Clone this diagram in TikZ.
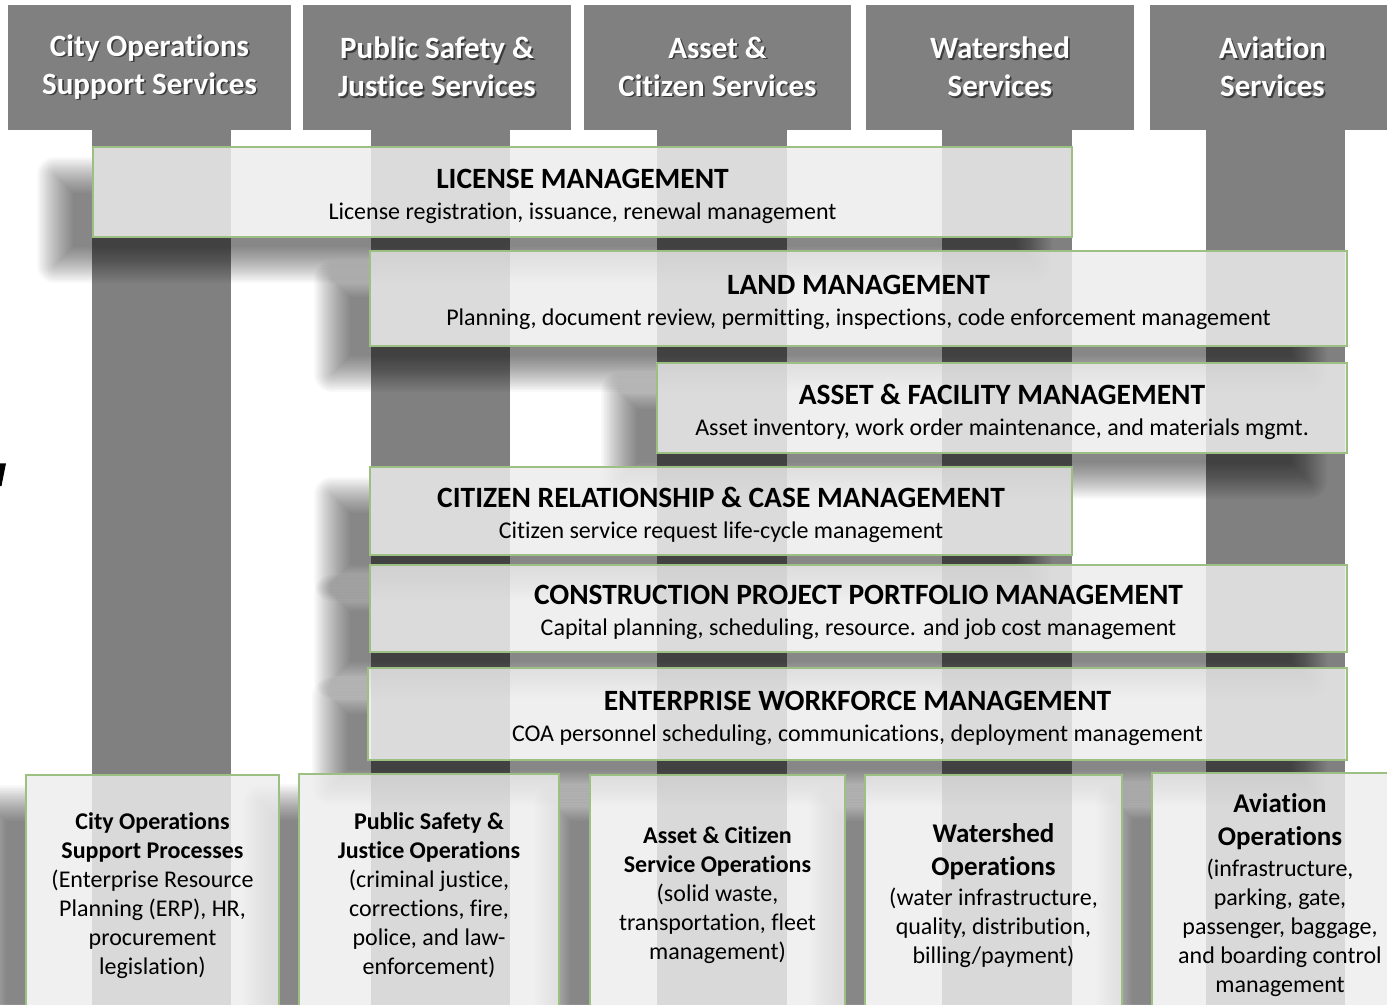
\documentclass[tikz,border=0pt]{standalone}
\usepackage{fontspec}
\setmainfont{Carlito}[Ligatures=NoCommon]

\definecolor{slate}{RGB}{128,128,128}
\definecolor{edgegreen}{RGB}{155,192,130}
\definecolor{panelfill}{RGB}{237,237,237}
\definecolor{textshade}{RGB}{60,60,60}

% soft drop shadow of a rectangle (offset left and down), kept out of the rectangle itself
\newcommand\castshadow[4]{%
  \begin{scope}[even odd rule]
    \clip (-60,-60) rectangle (1460,1080) (#1,#2) rectangle (#3,#4);
    \foreach \k in {0,...,23}{%
      \pgfmathsetmacro\grow{18-1.565*\k}%
      \pgfmathsetmacro\corner{max(\grow,0.5)*0.75}%
      \fill[black, fill opacity=0.025, rounded corners=\corner pt]
        (#1-38-\grow, #2+28-\grow) rectangle (#3-38+\grow, #4+28+\grow);
    }
  \end{scope}}

% white heading text with a dark offset copy underneath
\newcommand\embossed[1]{%
  \makebox[0pt][l]{\hspace{1.3pt}\raisebox{-1.3pt}{\textcolor{textshade}{#1}}}#1}

\tikzset{
  header/.style={fill=slate, draw=none, inner sep=0pt, anchor=center,
    text=white, align=center,
    font=\bfseries\fontsize{23.25}{28.5}\selectfont},
  pillar/.style={fill=slate, draw=none, inner sep=0pt},
  band/.style={fill=panelfill, fill opacity=0.84,
    draw=edgegreen, line width=1.9pt, inner sep=0pt},
  bandtext/.style={align=center, inner sep=0pt,
    font=\fontsize{18}{23.25}\selectfont},
  opsbox/.style={fill=panelfill, fill opacity=0.82, text opacity=1,
    draw=edgegreen, line width=1.9pt, inner sep=0pt, align=center,
    font=\fontsize{18}{21.75}\selectfont},
}

\newcommand\bandhead[1]{{\bfseries\fontsize{22.1}{23.25}\selectfont #1}}
\newcommand\opshead[1]{{\bfseries #1}}
\newcommand\opsheadlarge[1]{{\bfseries\fontsize{20.25}{24.75}\selectfont #1}}

\begin{document}
\begin{tikzpicture}[x=0.75pt, y=-0.75pt]
  \useasboundingbox (0,0) rectangle (1387,1004);
  \clip (0,0) rectangle (1387,1004);
  \fill[white] (0,0) rectangle (1387,1004);

  % service pillars running down from each heading
  \node[pillar, minimum width=104.25pt, minimum height=660pt] (p1) at (161.5,570) {};
  \node[pillar, minimum width=104.25pt, minimum height=660pt] (p2) at (440.5,570) {};
  \node[pillar, minimum width=97.5pt,   minimum height=660pt] (p3) at (722,570) {};
  \node[pillar, minimum width=97.5pt,   minimum height=660pt] (p4) at (1007,570) {};
  \node[pillar, minimum width=104.25pt, minimum height=660pt] (p5) at (1275.5,570) {};

  % service headings
  \node[header, minimum width=212.25pt, minimum height=93.75pt] (h1) at (149.5,67.5)
    {\embossed{City Operations}\\\embossed{Support Services}};
  \node[header, minimum width=201pt, minimum height=93.75pt] (h2) at (437,67.5)
    {\embossed{Public Safety \&}\\\embossed{Justice Services}};
  \node[header, minimum width=200.25pt, minimum height=93.75pt] (h3) at (717.5,67.5)
    {\embossed{Asset \&}\\\embossed{Citizen Services}};
  \node[header, minimum width=201pt, minimum height=93.75pt] (h4) at (1000,67.5)
    {\embossed{Watershed}\\\embossed{Services}};
  \node[header, minimum width=183.75pt, minimum height=93.75pt] (h5) at (1272.5,67.5)
    {\embossed{Aviation}\\\embossed{Services}};

  % cut-off glyph at the left margin
  \fill[black] (0,463.3) -- (6,463.3) -- (1.5,486) -- (0,486) -- cycle;

  % shadows of the capability bands
  \castshadow{93}{147}{1072}{237}
  \castshadow{370}{251}{1347}{346}
  \castshadow{657}{363}{1347}{453}
  \castshadow{370}{467}{1072}{555}
  \castshadow{370}{565}{1347}{652}
  \castshadow{368}{668}{1347}{760}

  % capability bands
  \node[band, minimum width=734.25pt, minimum height=67.5pt] (lic) at (582.5,192) {};
  \node[band, minimum width=732.75pt, minimum height=71.25pt] (land) at (858.5,298.5) {};
  \node[band, minimum width=517.5pt, minimum height=67.5pt] (afm) at (1002,408) {};
  \node[band, minimum width=526.5pt, minimum height=66pt] (crm) at (721,511) {};
  \node[band, minimum width=732.75pt, minimum height=65.25pt] (cppm) at (858.5,608.5) {};
  \node[band, minimum width=734.25pt, minimum height=69pt] (ewm) at (857.5,714) {};

  \node[bandtext] (lic-t) at ([yshift=-3pt]lic.center)
    {\bandhead{LICENSE MANAGEMENT}\\License registration, issuance, renewal management};
  \node[bandtext] (land-t) at ([yshift=-3pt]land.center)
    {\bandhead{LAND MANAGEMENT}\\Planning, document review, permitting, inspections, code enforcement management};
  \node[bandtext] (afm-t) at ([yshift=-3pt]afm.center)
    {\bandhead{ASSET \& FACILITY MANAGEMENT}\\Asset inventory, work order maintenance, and materials mgmt.};
  \node[bandtext] (crm-t) at ([yshift=-3pt]crm.center)
    {\bandhead{CITIZEN RELATIONSHIP \& CASE MANAGEMENT}\\Citizen service request life-cycle management};
  \node[bandtext] (cppm-t) at ([yshift=-3pt]cppm.center)
    {\bandhead{CONSTRUCTION PROJECT PORTFOLIO MANAGEMENT}\\Capital planning, scheduling, resource. and job cost management};
  \node[bandtext] (ewm-t) at ([yshift=-3pt]ewm.center)
    {\bandhead{ENTERPRISE WORKFORCE MANAGEMENT}\\COA personnel scheduling, communications, deployment management};

  % shadows of the operations boxes
  \castshadow{26}{775}{279}{1016}
  \castshadow{299}{774}{559}{1016}
  \castshadow{590}{775}{845}{1016}
  \castshadow{865}{775}{1122}{1016}
  \castshadow{1152}{773}{1408}{1016}

  % operations boxes
  \node[opsbox, minimum width=189.75pt, minimum height=180.75pt] (o1) at (152.5,895.5)
    {\opshead{City Operations}\\\opshead{Support Processes}\\(Enterprise Resource\\Planning (ERP), HR,\\procurement\\legislation)};
  \node[opsbox, minimum width=195pt, minimum height=181.5pt] (o2) at (429,895)
    {\opshead{Public Safety \&}\\\opshead{Justice Operations}\\(criminal justice,\\corrections, fire,\\police, and law-\\enforcement)};
  \node[opsbox, minimum width=191.25pt, minimum height=180.75pt] (o3) at (717.5,895.5)
    {\opshead{Asset \& Citizen}\\\opshead{Service Operations}\\(solid waste,\\transportation, fleet\\management)};
  \node[opsbox, minimum width=192.75pt, minimum height=180.75pt] (o4) at (993.5,895.5)
    {\opsheadlarge{Watershed}\\[3pt]\opsheadlarge{Operations}\\[1pt](water infrastructure,\\quality, distribution,\\billing/payment)};
  \node[opsbox, minimum width=192pt, minimum height=183pt] (o5) at (1280,895)
    {\opsheadlarge{Aviation}\\[3pt]\opsheadlarge{Operations}\\[1pt](infrastructure,\\parking, gate,\\passenger, baggage,\\and boarding control\\management};
\end{tikzpicture}
\end{document}
